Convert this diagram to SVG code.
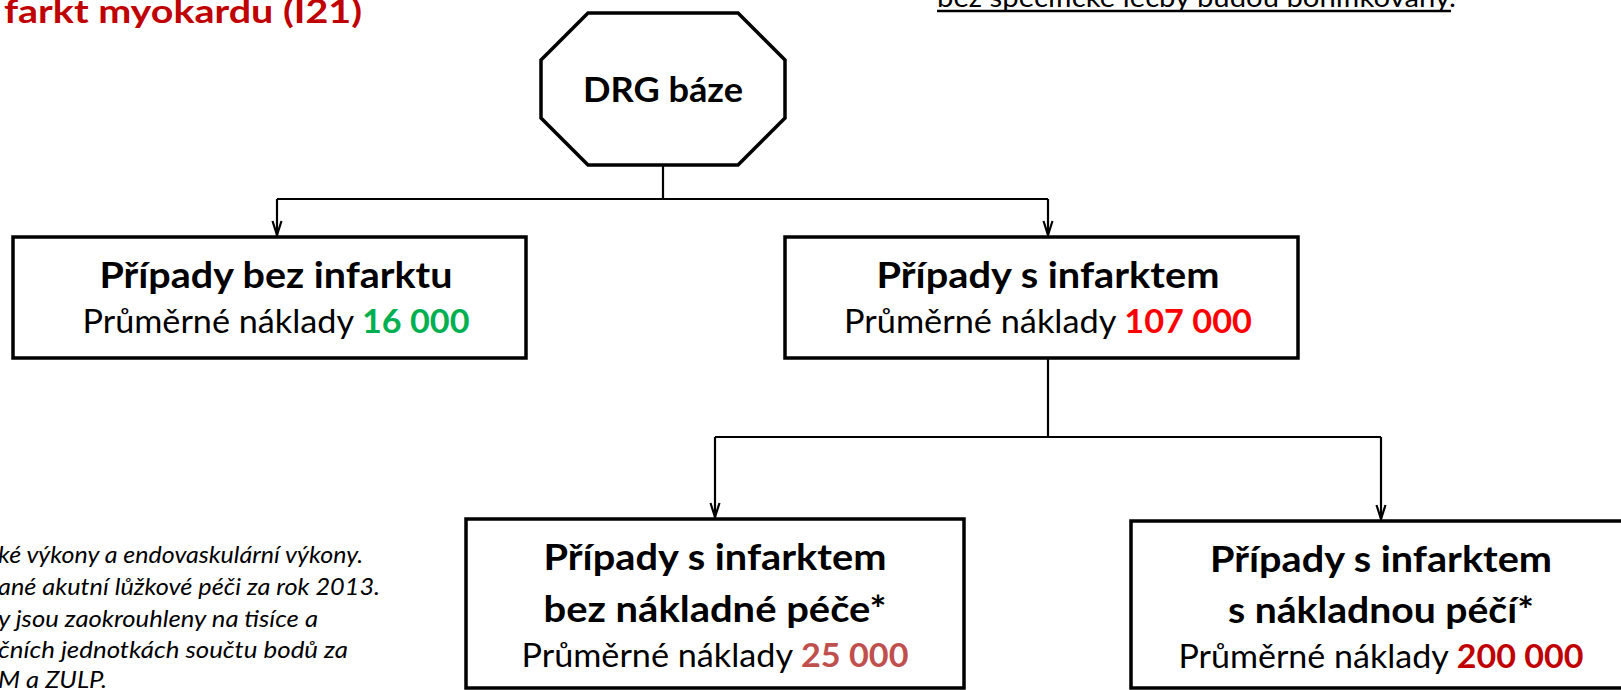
<svg xmlns="http://www.w3.org/2000/svg" width="1621" height="690" viewBox="0 0 1621 690">
<style>
.box{fill:#fff;stroke:#000;stroke-width:3.5}
.con{fill:none;stroke:#000;stroke-width:2.2}
.b{font-family:Lato,"Liberation Sans",sans-serif;font-weight:bold;fill:#000}
.r{font-family:Lato,"Liberation Sans",sans-serif;font-weight:normal;fill:#000}
.it{font-family:Lato,"Liberation Sans",sans-serif;font-style:italic;font-size:24px;fill:#000}
.num{font-weight:bold}
</style>
<defs>
<marker id="arr" markerWidth="16" markerHeight="12" refX="15" refY="6" orient="auto" markerUnits="userSpaceOnUse" viewBox="0 0 16 12">
<path d="M1,1.5 L15,6 L1,10.5" fill="none" stroke="#000" stroke-width="2.2"/>
</marker>
</defs>
<rect width="1621" height="690" fill="#fff"/>

<g id="title">
<text class="b" x="4" y="23" font-size="32" style="fill:#C00000" textLength="358" lengthAdjust="spacingAndGlyphs">farkt myokardu (I21)</text>
</g>
<g id="note-top">
<text class="r" x="937" y="7" font-size="26" textLength="519" lengthAdjust="spacingAndGlyphs">bez specifické léčby budou bonifikovány.</text>
<line x1="937" y1="11" x2="1451" y2="11" stroke="#000" stroke-width="2.5"/>
</g>

<g id="connectors">
<path class="con" d="M663,165 V199"/>
<path class="con" d="M277,199 H1048"/>
<path class="con" d="M277,199 V235" marker-end="url(#arr)"/>
<path class="con" d="M1048,199 V235" marker-end="url(#arr)"/>
<path class="con" d="M1048,358 V437"/>
<path class="con" d="M715,437 H1381"/>
<path class="con" d="M715,437 V517" marker-end="url(#arr)"/>
<path class="con" d="M1381,437 V519" marker-end="url(#arr)"/>
</g>

<g id="drg">
<polygon class="box" points="588,13 738,13 785,60 785,118 738,165 588,165 541,118 541,60"/>
<text class="b" x="663" y="102" font-size="34" text-anchor="middle" textLength="160" lengthAdjust="spacingAndGlyphs">DRG báze</text>
</g>

<g id="bez-infarktu">
<rect class="box" x="13" y="237" width="513" height="121"/>
<text class="b" x="276" y="288" font-size="36" text-anchor="middle" textLength="353" lengthAdjust="spacingAndGlyphs">Případy bez infarktu</text>
<text class="r" x="276" y="333" font-size="33" text-anchor="middle" textLength="387" lengthAdjust="spacingAndGlyphs">Průměrné náklady <tspan class="num" fill="#00B050">16 000</tspan></text>
</g>

<g id="s-infarktem">
<rect class="box" x="785" y="237" width="513" height="121"/>
<text class="b" x="1048" y="288" font-size="36" text-anchor="middle" textLength="343" lengthAdjust="spacingAndGlyphs">Případy s infarktem</text>
<text class="r" x="1048" y="333" font-size="33" text-anchor="middle" textLength="408" lengthAdjust="spacingAndGlyphs">Průměrné náklady <tspan class="num" fill="#FF0000">107 000</tspan></text>
</g>

<g id="bez-nakladne">
<rect class="box" x="466" y="519" width="498" height="169"/>
<text class="b" x="715" y="570" font-size="36" text-anchor="middle" textLength="343" lengthAdjust="spacingAndGlyphs">Případy s infarktem</text>
<text class="b" x="715" y="622" font-size="36" text-anchor="middle" textLength="343" lengthAdjust="spacingAndGlyphs">bez nákladné péče*</text>
<text class="r" x="715" y="667" font-size="33" text-anchor="middle" textLength="387" lengthAdjust="spacingAndGlyphs">Průměrné náklady <tspan class="num" fill="#C0504D">25 000</tspan></text>
</g>

<g id="s-nakladnou">
<rect class="box" x="1131" y="521" width="500" height="167"/>
<text class="b" x="1381" y="572" font-size="36" text-anchor="middle" textLength="342" lengthAdjust="spacingAndGlyphs">Případy s infarktem</text>
<text class="b" x="1381" y="623" font-size="36" text-anchor="middle" textLength="306" lengthAdjust="spacingAndGlyphs">s nákladnou péčí*</text>
<text class="r" x="1381" y="668" font-size="33" text-anchor="middle" textLength="405" lengthAdjust="spacingAndGlyphs">Průměrné náklady <tspan class="num" fill="#C00000">200 000</tspan></text>
</g>

<g id="footnote">
<text class="it" x="-2" y="563" textLength="365" lengthAdjust="spacingAndGlyphs">ké výkony a endovaskulární výkony.</text>
<text class="it" x="-2" y="595" textLength="382" lengthAdjust="spacingAndGlyphs">ané akutní lůžkové péči za rok 2013.</text>
<text class="it" x="-2" y="627" textLength="320" lengthAdjust="spacingAndGlyphs">y jsou zaokrouhleny na tisíce a</text>
<text class="it" x="-2" y="658" textLength="350" lengthAdjust="spacingAndGlyphs">čních jednotkách součtu bodů za</text>
<text class="it" x="-2" y="688" textLength="109" lengthAdjust="spacingAndGlyphs">M a ZULP.</text>
</g>
</svg>
